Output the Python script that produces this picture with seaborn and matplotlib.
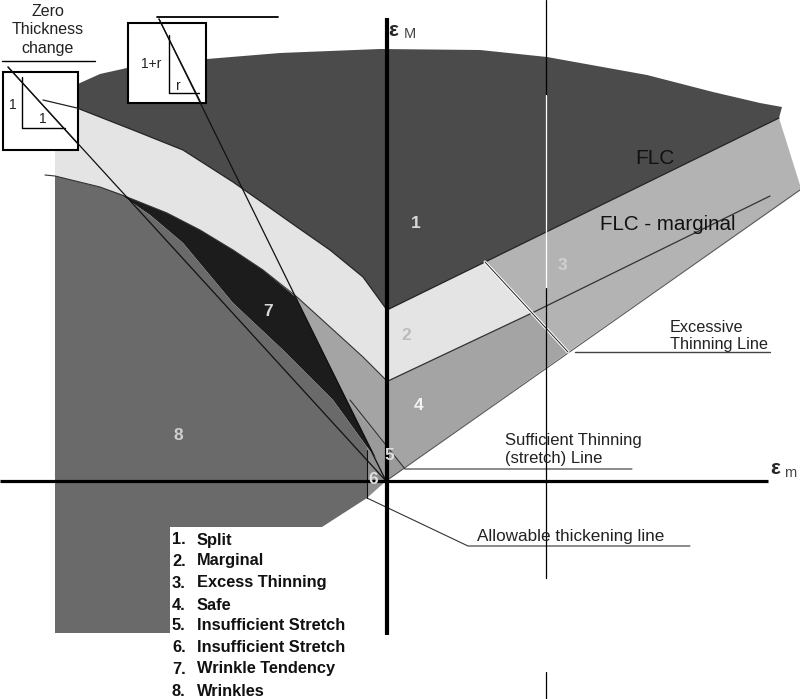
import matplotlib
matplotlib.use("Agg")
import matplotlib.pyplot as plt
import numpy as np
import seaborn as sns

# ── Diagram data (picture coordinates, y grows downward) ─────────────────────
ORIGIN = (386, 481)

# upper edge of the split zone
SPLIT_TOP_X = [50, 62, 80, 100, 127, 207, 280, 380, 480, 547, 647, 713, 760, 782, 779]
SPLIT_TOP_Y = [100, 93, 83, 74, 68, 59, 53, 49, 50, 57, 75, 92, 103, 107, 118]

# forming limit curve (left curved part + straight right part)
FLC_X = [43, 77, 133, 183, 233, 263, 297, 330, 363, 387, 485, 779]
FLC_Y = [100, 108, 130, 150, 182, 203, 227, 250, 277, 310, 262, 118]

# lower edge of the marginal band, left of the axis
MARG_LOW_X = [45, 55, 100, 127, 167, 200, 233, 263, 297, 330, 363, 387]
MARG_LOW_Y = [175, 176, 187, 197, 213, 230, 250, 270, 297, 327, 357, 381]

# FLC - marginal line, right of the axis
MARG_LINE_X = [388, 532, 770]
MARG_LINE_Y = [381, 313, 196]

# lower edge of the wrinkle tendency wedge
WRINKLE_LOW_X = [118, 150, 183, 233, 283, 333, 367, 376]
WRINKLE_LOW_Y = [193, 215, 243, 303, 350, 400, 447, 458]

# excessive thinning leader and region 3 right edge
EXCESS_LEAD_X = [485, 568]
EXCESS_LEAD_Y = [262, 352]
RIGHT_EDGE_X = [779, 800, 800]
RIGHT_EDGE_Y = [118, 185, 190]

# straight strain-path lines
ZERO_THICK_X = [8, 386]
ZERO_THICK_Y = [67, 481]
ONE_R_X = [159, 386]
ONE_R_Y = [19, 481]
SUFF_LEAD_X = [350, 405, 632]
SUFF_LEAD_Y = [400, 469, 469]
ALLOW_LEAD_X = [367, 468, 690]
ALLOW_LEAD_Y = [498, 546, 546]
EXCESS_UL_X = [575, 770]
EXCESS_UL_Y = [352, 352]

REGION_NUMS = ["1", "2", "3", "4", "5", "6", "7", "8"]
REGION_NUM_X = [416, 406, 562, 419, 389, 373, 268, 178]
REGION_NUM_Y = [224, 335, 265, 405, 455, 480, 312, 435]
REGION_NUM_C = ["#d8d8d8", "#bcbcbc", "#d0d0d0", "#f2f2f2", "#e0e0e0", "#e0e0e0", "#d8d8d8", "#cfcfcf"]

LEGEND_ITEMS = ["Split", "Marginal", "Excess Thinning", "Safe",
                "Insufficient Stretch", "Insufficient Stretch",
                "Wrinkle Tendency", "Wrinkles"]
LEGEND_Y = [540, 561, 583, 605, 626, 647, 669, 691]

C_SPLIT = "#4b4b4b"
C_MARG = "#e4e4e4"
C_EXCESS = "#b3b3b3"
C_SAFE = "#a4a4a4"
C_INSUFF5 = "#9a9a9a"
C_INSUFF6 = "#8e8e8e"
C_WRTEND = "#1c1c1c"
C_WRINK = "#6a6a6a"


def line_at_y(xs, ys, y):
    # x of the straight line through two points at height y
    return xs[0] + (y - ys[0]) * (xs[1] - xs[0]) / (ys[1] - ys[0])


sns.set_theme(style="white")
plt.rcParams["font.family"] = ["Liberation Sans", "DejaVu Sans"]

fig = plt.figure(figsize=(8.0, 6.99), dpi=100)
ax = fig.add_axes([0, 0, 1, 1])
ax.set_xlim(0, 800)
ax.set_ylim(699, 0)
ax.axis("off")

# ── Regions ──────────────────────────────────────────────────────────────────
# 1 split: between top edge and FLC
split_x = SPLIT_TOP_X + FLC_X[::-1]
split_y = SPLIT_TOP_Y + FLC_Y[::-1]
ax.fill(split_x, split_y, color=C_SPLIT, lw=0)

# 2 marginal
marg_x = [55] + FLC_X[1:11] + [532] + MARG_LOW_X[::-1][:-1]
marg_y = [103] + FLC_Y[1:11] + [313] + MARG_LOW_Y[::-1][:-1]
ax.fill(marg_x, marg_y, color=C_MARG, lw=0)

# 3 excess thinning
ex_x = [FLC_X[10], FLC_X[11]] + RIGHT_EDGE_X + [EXCESS_LEAD_X[1]]
ex_y = [FLC_Y[10], FLC_Y[11]] + RIGHT_EDGE_Y + [EXCESS_LEAD_Y[1]]
ax.fill(ex_x, ex_y, color=C_EXCESS, lw=0)

# 4 safe
x_top = line_at_y(ONE_R_X, ONE_R_Y, 297)
safe_x = [x_top] + MARG_LOW_X[8:] + [532, 568, ORIGIN[0]]
safe_y = [297] + MARG_LOW_Y[8:] + [313, 352, ORIGIN[1]]
ax.fill(safe_x, safe_y, color=C_SAFE, lw=0)

# 5 insufficient stretch
x5 = line_at_y(ONE_R_X, ONE_R_Y, 402)
ax.fill([x5, 405, ORIGIN[0]], [402, 468, ORIGIN[1]], color=C_INSUFF5, lw=0)

# 7 wrinkle tendency
wt_x = [WRINKLE_LOW_X[0]] + MARG_LOW_X[3:8] + [x_top] + WRINKLE_LOW_X[::-1]
wt_y = [WRINKLE_LOW_Y[0]] + MARG_LOW_Y[3:8] + [297] + WRINKLE_LOW_Y[::-1]
ax.fill(wt_x, wt_y, color=C_WRTEND, lw=0)

# 6 insufficient stretch (compression side)
ax.fill([367, 376, ORIGIN[0], 367], [447, 458, ORIGIN[1], 498], color=C_INSUFF6, lw=0)

# 8 wrinkles
wr_x = MARG_LOW_X[1:3] + WRINKLE_LOW_X[:-1] + [367, 322, 170, 170, 55]
wr_y = MARG_LOW_Y[1:3] + WRINKLE_LOW_Y[:-1] + [498, 527, 527, 633, 633]
ax.fill(wr_x, wr_y, color=C_WRINK, lw=0)

# ── Boundary and strain-path lines ───────────────────────────────────────────
kw = dict(ax=ax, sort=False, estimator=None, legend=False)
sns.lineplot(x=FLC_X, y=FLC_Y, color="#222222", lw=0.9, **kw)
sns.lineplot(x=MARG_LOW_X, y=MARG_LOW_Y, color="#333333", lw=0.8, **kw)
sns.lineplot(x=MARG_LINE_X, y=MARG_LINE_Y, color="#333333", lw=0.9, **kw)
sns.lineplot(x=[ORIGIN[0], 800], y=[ORIGIN[1], 190], color="#555555", lw=0.8, **kw)
sns.lineplot(x=EXCESS_LEAD_X, y=EXCESS_LEAD_Y, color="white", lw=2.2, **kw)
sns.lineplot(x=EXCESS_LEAD_X, y=EXCESS_LEAD_Y, color="#222222", lw=0.7, **kw)
sns.lineplot(x=EXCESS_UL_X, y=EXCESS_UL_Y, color="#444444", lw=1.0, **kw)
sns.lineplot(x=ZERO_THICK_X, y=ZERO_THICK_Y, color="#111111", lw=0.9, **kw)
sns.lineplot(x=ONE_R_X, y=ONE_R_Y, color="#111111", lw=0.9, **kw)
sns.lineplot(x=SUFF_LEAD_X, y=SUFF_LEAD_Y, color="#333333", lw=0.8, **kw)
sns.lineplot(x=ALLOW_LEAD_X, y=ALLOW_LEAD_Y, color="#333333", lw=0.8, **kw)
sns.lineplot(x=[367, 367], y=[450, 498], color="#111111", lw=0.8, **kw)

# thin vertical reference line (inverted over the dark zone)
ax.plot([546, 546], [0, 95], color="black", lw=0.9)
ax.plot([546, 546], [95, 288], color="white", lw=0.9)
ax.plot([546, 546], [288, 578], color="black", lw=0.9)
ax.plot([546, 546], [672, 699], color="black", lw=0.9)

# main axes
ax.plot([0, 768], [481, 481], color="black", lw=2.3, solid_capstyle="butt")
ax.plot([387, 387], [18, 635], color="black", lw=3.0, solid_capstyle="butt")
ax.text(388, 30, "ε", fontsize=15, fontweight="bold", va="center", ha="left")
ax.text(404, 34, "M", fontsize=10.5, color="#444444", va="center", ha="left")
ax.text(770, 468, "ε", fontsize=15, fontweight="bold", va="center", ha="left")
ax.text(784, 473, "m", fontsize=10.5, color="#444444", va="center", ha="left")

# ── Annotation boxes ─────────────────────────────────────────────────────────
ax.add_patch(plt.Rectangle((3, 72), 75, 78, fc="white", ec="black", lw=1.5))
ax.plot([22, 22, 65], [77, 128, 128], color="black", lw=1.0)
ax.text(13, 105, "1", fontsize=10, ha="center", va="center", color="#222222")
ax.text(43, 119, "1", fontsize=10, ha="center", va="center", color="#222222")
ax.plot([8, 78], [67, 144], color="#111111", lw=0.9)

ax.add_patch(plt.Rectangle((128, 23), 78, 80, fc="white", ec="black", lw=1.5))
ax.plot([169, 169, 199], [35, 93, 93], color="black", lw=1.0)
ax.text(151, 64, "1+r", fontsize=10, ha="center", va="center", color="#222222")
ax.text(178, 86, "r", fontsize=10, ha="center", va="center", color="#222222")
ax.plot([159, 201], [19, 103], color="#111111", lw=0.9)
ax.plot([157, 278], [17, 17], color="black", lw=1.3)

ax.text(48, 30, "Zero\nThickness\nchange", fontsize=11.5, ha="center", va="center",
        linespacing=1.3, color="#222222")
ax.plot([2, 95], [61, 61], color="black", lw=1.0)

# ── Labels ───────────────────────────────────────────────────────────────────
ax.text(655, 158, "FLC", fontsize=15, ha="center", va="center", color="#111111")
ax.text(668, 224, "FLC - marginal", fontsize=14.8, ha="center", va="center", color="#111111")
ax.text(670, 336, "Excessive\nThinning Line", fontsize=11.7, ha="left", va="center",
        color="#222222", linespacing=1.2)
ax.text(505, 449, "Sufficient Thinning\n(stretch) Line", fontsize=12, ha="left",
        va="center", color="#222222", linespacing=1.25)
ax.text(477, 536, "Allowable thickening line", fontsize=12.3, ha="left", va="center",
        color="#222222")

for num, x, y, c in zip(REGION_NUMS, REGION_NUM_X, REGION_NUM_Y, REGION_NUM_C):
    ax.text(x, y, num, fontsize=12.5, fontweight="bold", ha="center", va="center", color=c)

for i, (item, y) in enumerate(zip(LEGEND_ITEMS, LEGEND_Y), start=1):
    ax.text(172, y, f"{i}.", fontsize=11.8, fontweight="bold", ha="left", va="center",
            color="#111111")
    ax.text(197, y, item, fontsize=11.8, fontweight="bold", ha="left", va="center",
            color="#111111")

fig.savefig("out.png", dpi=100, facecolor="white")
